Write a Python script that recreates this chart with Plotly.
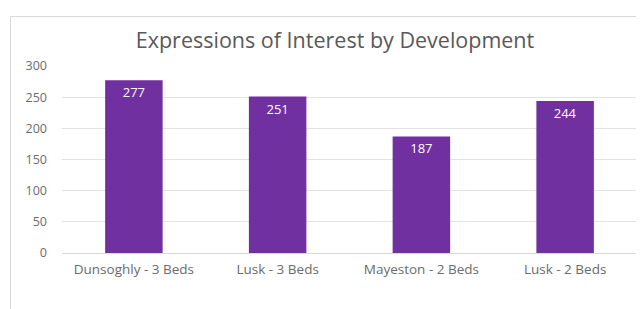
import plotly.graph_objects as go

categories = ["Dunsoghly - 3 Beds", "Lusk - 3 Beds", "Mayeston - 2 Beds", "Lusk - 2 Beds"]
values = [277, 251, 187, 244]
y_ticks = [0, 50, 100, 150, 200, 250, 300]

# page has an 8px body margin; figure canvas starts at (8, 8)
OFF = 8
W, H = 644 - OFF, 309 - OFF
ml, mr, mt, mb = 62 - OFF, 7, 66 - OFF, 309 - 253
pw, ph = W - ml - mr, H - mt - mb

def px_to_paper_x(px):
    return (px - OFF - ml) / pw

def px_to_paper_y(py):
    return (H - mb - (py - OFF)) / ph

fig = go.Figure(go.Bar(
    x=categories, y=values,
    marker=dict(color="#7030A0", line=dict(width=0)),
    text=[str(v) for v in values],
    textposition="inside", insidetextanchor="end",
    textfont=dict(color="white", size=13, family="Open Sans"),
    cliponaxis=False,
))

fig.update_layout(
    width=W, height=H,
    margin=dict(l=ml, r=mr, t=mt, b=mb),
    paper_bgcolor="white", plot_bgcolor="white",
    bargap=0.6,
    showlegend=False,
    title=dict(text="Expressions of Interest by Development", x=(335 - OFF) / W, xanchor="center",
               y=1 - (40 - OFF) / H, yanchor="middle",
               font=dict(family="Open Sans", size=21.5, color="#595959")),
    font=dict(family="Open Sans", color="#595959", size=12),
)
fig.update_yaxes(range=[0, 300], tickvals=y_ticks, showgrid=True, gridcolor="#e3e3e3", gridwidth=1,
                 zeroline=True, zerolinecolor="#d9d9d9", zerolinewidth=1, showline=False,
                 ticks="", ticklabelstandoff=14, tickfont=dict(size=12.5, color="#6b6b6b"))
fig.update_xaxes(showgrid=False, showline=False, ticks="", ticklabelstandoff=6,
                 tickfont=dict(size=13.5, color="#6b6b6b"))

fig.add_shape(type="rect", xref="paper", yref="paper",
              x0=px_to_paper_x(10.5), x1=px_to_paper_x(680), y0=px_to_paper_y(16.5), y1=px_to_paper_y(360),
              line=dict(color="#d9d9d9", width=1), fillcolor="rgba(0,0,0,0)", layer="below")

fig.write_html("out.html")
